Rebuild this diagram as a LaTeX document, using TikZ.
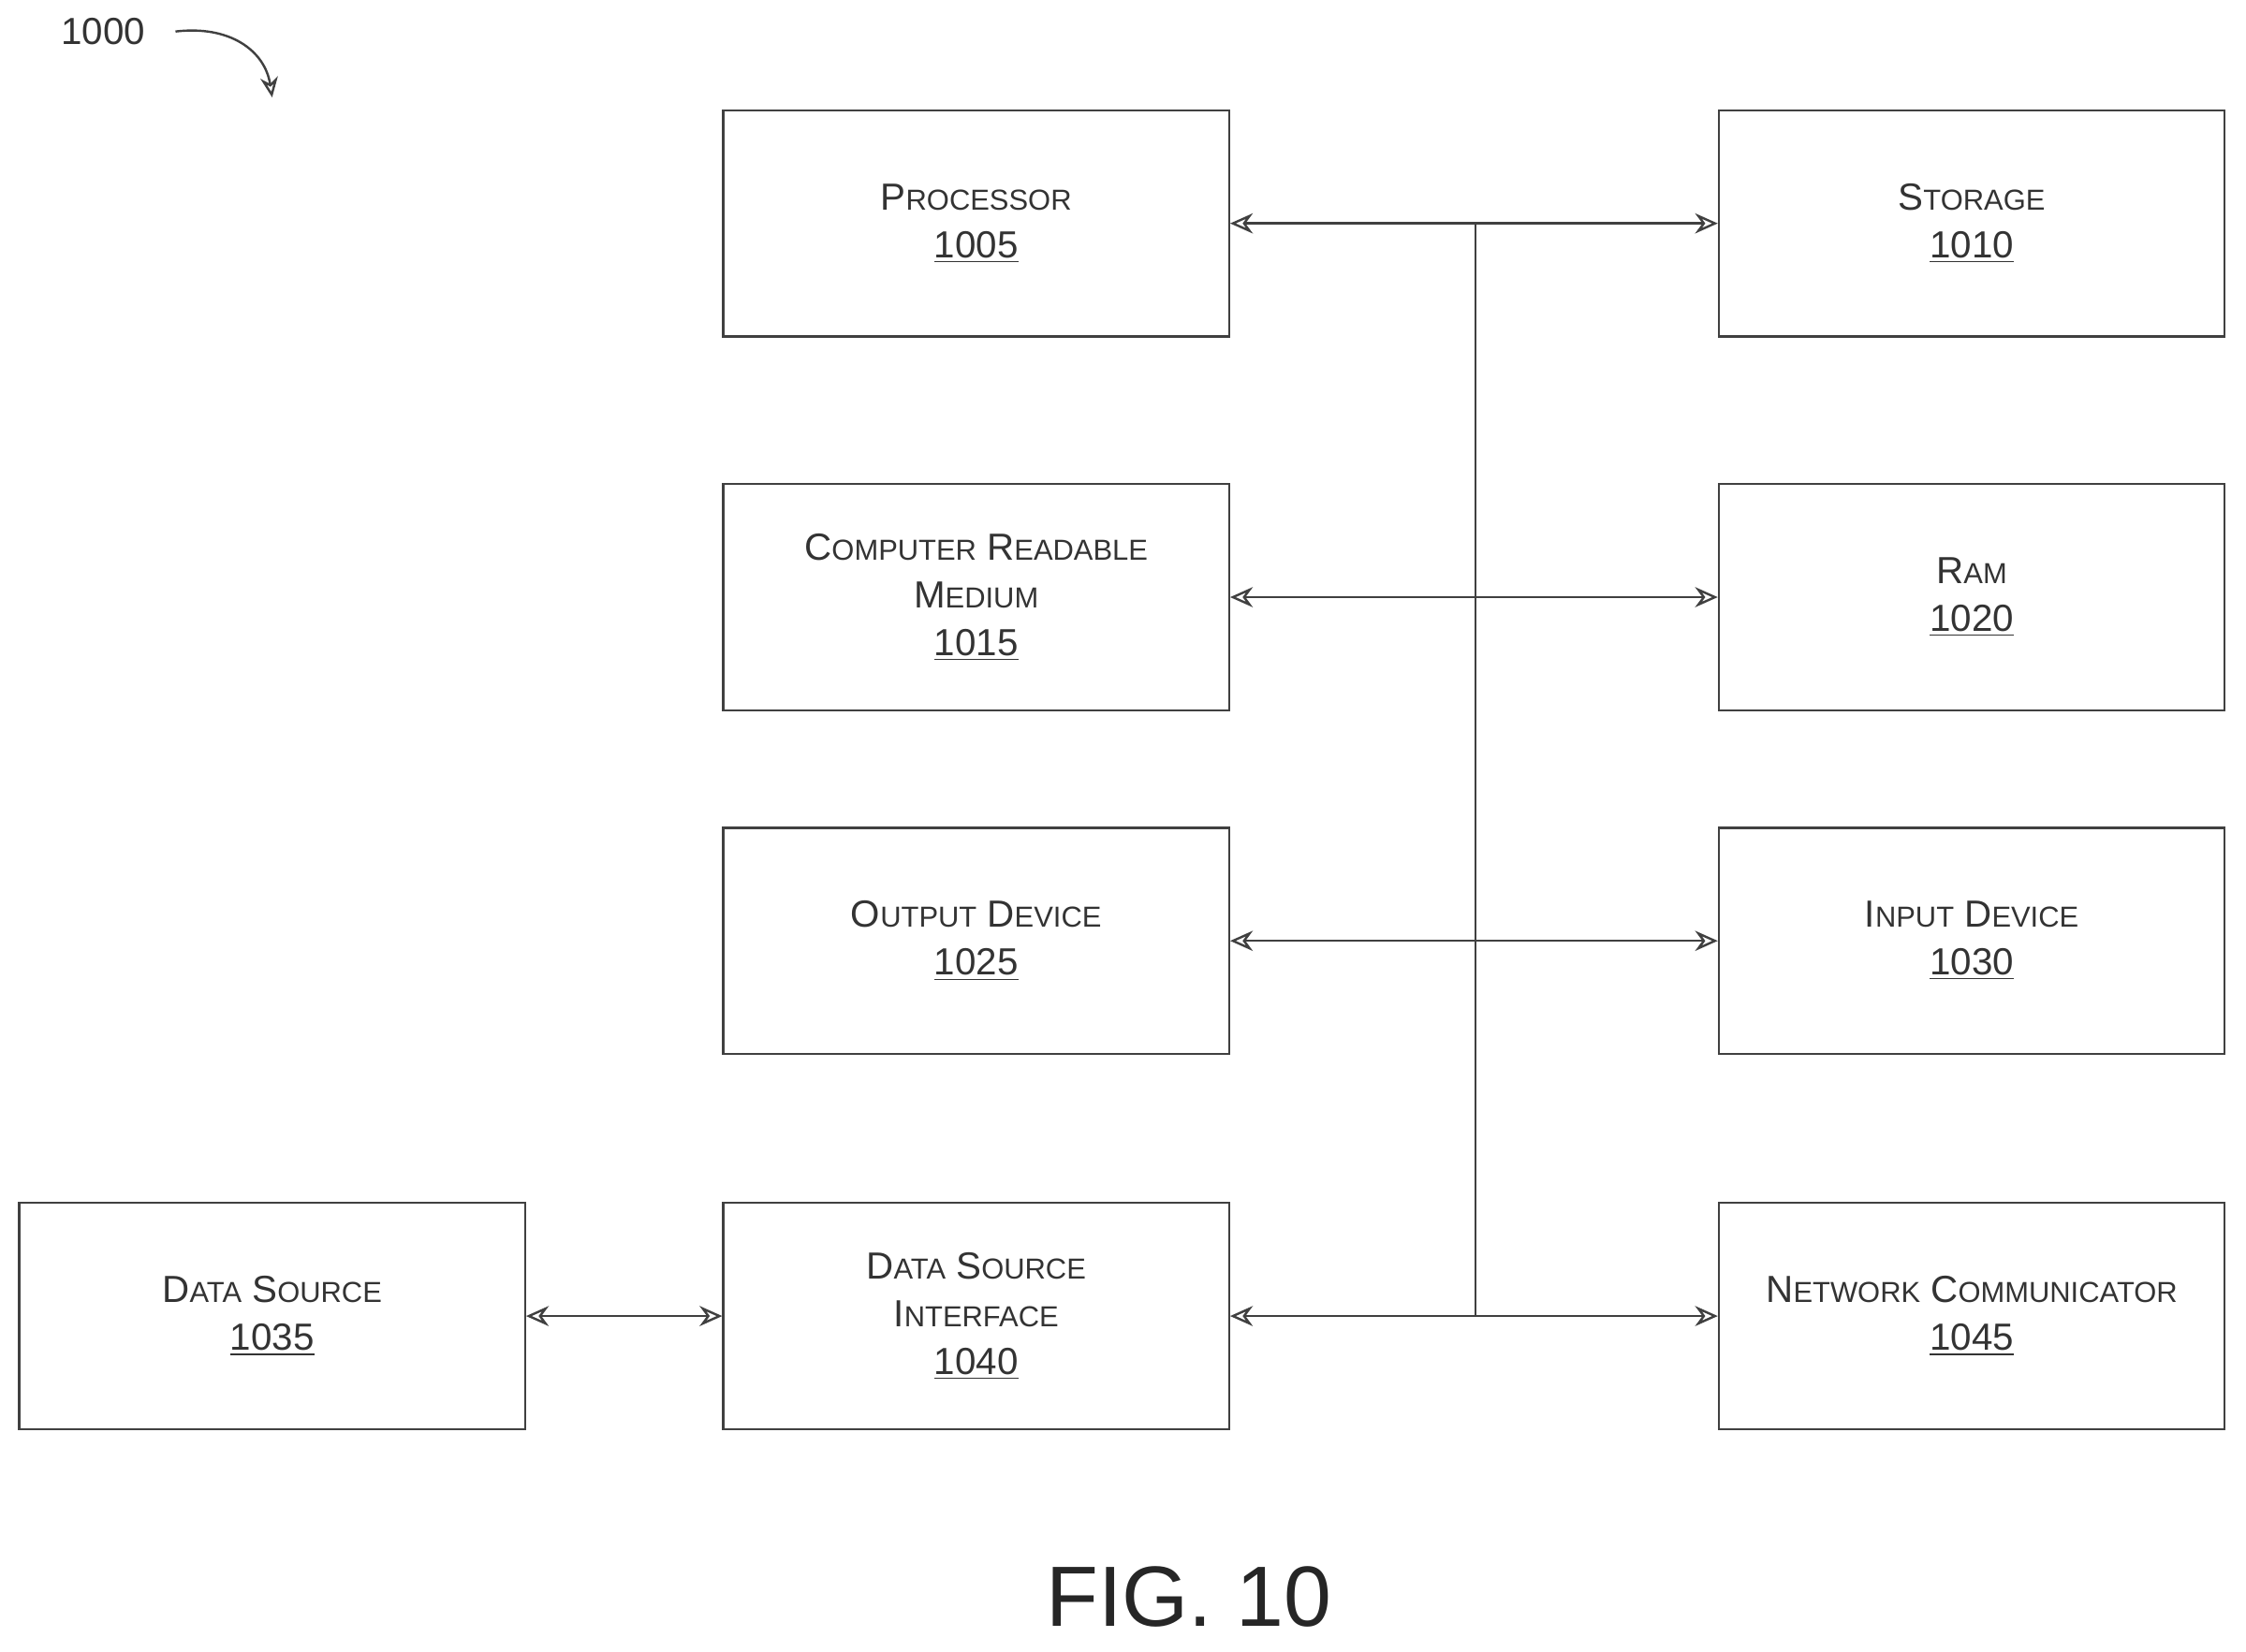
\documentclass[tikz,border=0pt]{standalone}
\usepackage{fontspec}
\setmainfont{Liberation Sans}
\usetikzlibrary{arrows.meta,positioning}
\newcommand{\fsc}[2]{{\fontsize{15}{18}\selectfont #1}{\fontsize{11.5}{18}\selectfont #2}}
\newcommand{\refno}[1]{{\fontsize{15}{19}\selectfont\underline{#1}}}
\tikzset{
  blk/.style={draw=black!75, line width=0.9pt, minimum width=7.06cm, minimum height=3.16cm,
    align=center, text=black!80, font=\fontsize{15}{19}\selectfont},
  link/.style={draw=black!75, line width=0.9pt, {Stealth[open,length=9pt,width=8pt]}-{Stealth[open,length=9pt,width=8pt]}}
}
\begin{document}
\begin{tikzpicture}
\useasboundingbox (0,0) rectangle (31.36,-23.06);

% left column
\node[blk] (proc) at (13.63,-3.12) {\fsc{P}{ROCESSOR}\\\refno{1005}};
\node[blk] (crm) at (13.63,-8.34) {\fsc{C}{OMPUTER} \fsc{R}{EADABLE}\\\fsc{M}{EDIUM}\\\refno{1015}};
\node[blk] (outd) at (13.63,-13.14) {\fsc{O}{UTPUT} \fsc{D}{EVICE}\\\refno{1025}};
\node[blk] (dsi) at (13.63,-18.38) {\fsc{D}{ATA} \fsc{S}{OURCE}\\\fsc{I}{NTERFACE}\\\refno{1040}};

% right column
\node[blk] (stor) at (27.53,-3.12) {\fsc{S}{TORAGE}\\\refno{1010}};
\node[blk] (ram) at (27.53,-8.34) {\fsc{R}{AM}\\\refno{1020}};
\node[blk] (ind) at (27.53,-13.14) {\fsc{I}{NPUT} \fsc{D}{EVICE}\\\refno{1030}};
\node[blk] (netc) at (27.53,-18.38) {\fsc{N}{ETWORK} \fsc{C}{OMMUNICATOR}\\\refno{1045}};

\node[blk] (dsrc) at (3.8,-18.38) {\fsc{D}{ATA} \fsc{S}{OURCE}\\\refno{1035}};

% bus
\coordinate (bus) at (20.6,0);
\draw[link] (proc.east) -- (stor.west);
\draw[link] (crm.east) -- (ram.west);
\draw[link] (outd.east) -- (ind.west);
\draw[link] (dsi.east) -- (netc.west);
\draw[draw=black!75, line width=0.9pt] (proc.east -| bus) -- (dsi.east -| bus);
\draw[link] (dsrc.east) -- (dsi.west);

% figure reference
\node[text=black!80, font=\fontsize{15}{19}\selectfont] (fig) at (1.44,-0.44) {1000};
\coordinate (figend) at (3.8,-1.36);
\draw[draw=black!75, line width=0.9pt, -{Stealth[open,length=8pt,width=7pt]}] (fig.east) ++(0.3,0) .. controls (3.2,-0.35) and (3.7,-0.7) .. (figend);

\node[text=black!85, font=\fontsize{34}{38}\selectfont] (title) at (16.6,-22.3) {FIG. 10};
\end{tikzpicture}
\end{document}
